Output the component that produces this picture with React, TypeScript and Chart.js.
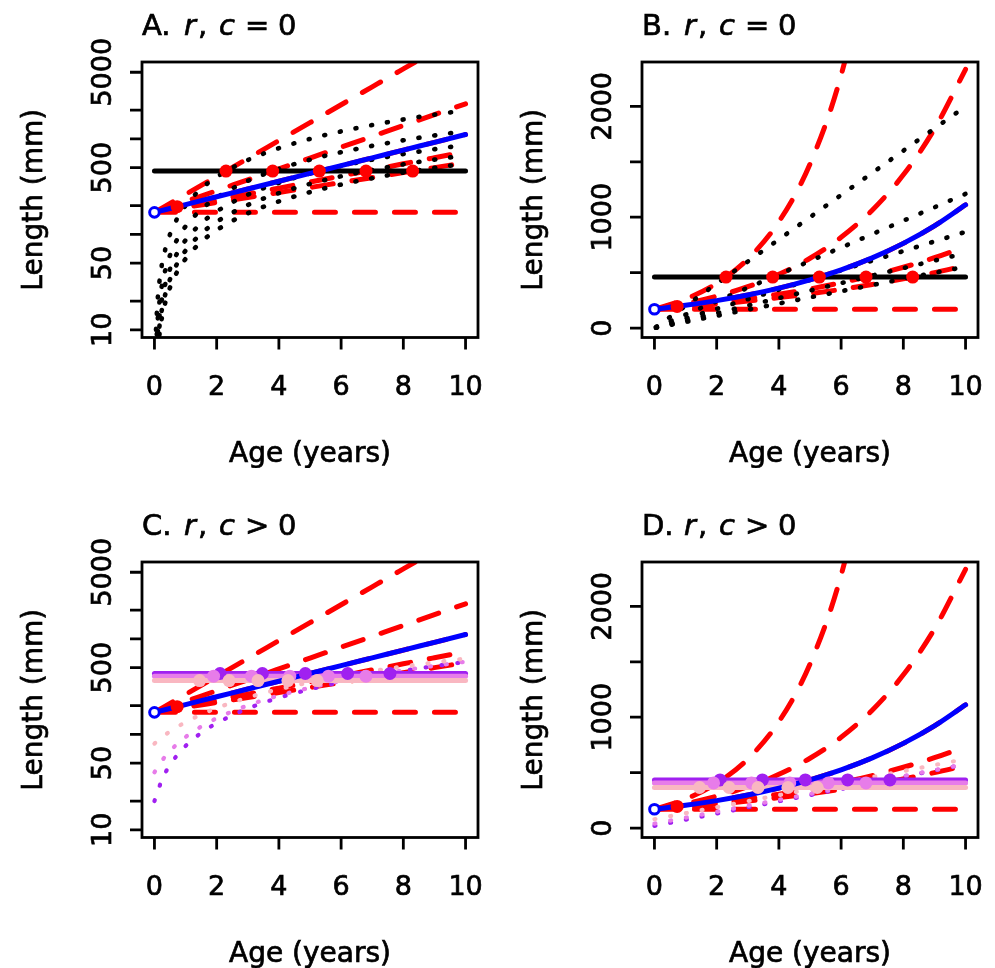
import React, { useEffect, useRef } from "react";
import { Chart, registerables } from "chart.js";

Chart.register(...registerables);

// ---------- data ----------
const AGE = [0, 1, 2, 3, 4, 5, 6, 7, 8, 9, 10];
const BLUE_LEN = [170, 205.1, 247.5, 298.6, 360.3, 434.8, 524.6, 633.0, 763.8, 921.6, 1112];
const RED_R0 = [170, 170, 170, 170, 170, 170, 170, 170, 170, 170, 170];
const RED_R1 = [170, 262.1, 404.0, 622.7, 960.0, 1479.9, 2281.3, 3516.7, 5421, 8357, 12883];
const RED_R2 = [170, 220.9, 287.1, 373.0, 484.7, 629.9, 818.5, 1063.6, 1382.1, 1796.0, 2333.8];
const RED_R3 = [170, 205.1, 247.5, 298.6, 360.3, 434.8, 524.6, 633.0, 763.8, 921.6, 1112];
const RED_R4 = [170, 196.8, 227.8, 263.7, 305.3, 353.4, 409.2, 473.7, 548.4, 634.8, 734.9];
const RED_R5 = [170, 191.7, 216.1, 243.6, 274.7, 309.7, 349.1, 393.6, 443.8, 500.3, 564.1];

const DOT_AGE = [0.05, 0.1, 0.2, 0.3, 0.5, 0.75, 1, 1.5, 2, 3, 4, 5, 6, 8, 10];
const BLACK_D1 = [10, 20, 40, 60, 100, 150, 200, 300, 400, 600, 800, 1000, 1200, 1600, 2000];
const BLACK_D2 = [6.05, 12.1, 24.2, 36.3, 60.5, 90.8, 121, 181.6, 242.1, 363.2, 484.2, 605.3, 726.3, 968.4, 1210.5];
const BLACK_D3 = [4.34, 8.68, 17.36, 26.04, 43.4, 65.1, 86.8, 130.2, 173.6, 260.4, 347.2, 434, 520.8, 694.3, 867.9];
const BLACK_D4 = [3.38, 6.77, 13.53, 20.3, 33.8, 50.7, 67.6, 101.5, 135.3, 202.9, 270.6, 338.2, 405.9, 541.2, 676.5];
const BLACK_D5 = [2.77, 5.54, 11.08, 16.63, 27.7, 41.6, 55.4, 83.1, 110.8, 166.3, 221.7, 277.1, 332.5, 443.4, 554.2];

const C_AGE = [0, 0.25, 0.5, 1, 1.5, 2, 3, 4, 6, 8, 10];
const PURPLE_DOTTED = [20, 33.9, 47.8, 75.5, 103.3, 131, 186.5, 242, 353, 464, 575];
const VIOLET_DOTTED = [40, 53.4, 66.9, 93.7, 120.6, 147.4, 201.1, 254.8, 362.2, 469.6, 577];
const PINK_DOTTED = [80, 93.6, 107.2, 134.3, 161.5, 188.6, 242.9, 297.2, 405.8, 514.4, 623];

const LINE_AGE = [0, 10];
const BLACK_LEVEL = 460;
const PURPLE_LEVEL = 434;
const VIOLET_LEVEL = 407;
const PINK_LEVEL = 366;

const RED_PT_AGE = [2.3, 3.8, 5.3, 6.8, 8.3];
const PURPLE_PT_AGE = [2.11, 3.47, 4.85, 6.21, 7.57];
const VIOLET_PT_AGE = [1.9, 3.12, 4.35, 5.59, 6.8];
const PINK_PT_AGE = [1.45, 2.4, 3.33, 4.29, 5.23];

const START_AGE = [0];
const START_LEN = [170];
const MID_AGE = [0.73];
const MID_LEN = [195];

const X_TICKS = [0, 2, 4, 6, 8, 10];
const LOG_TICKS = [10, 20, 50, 100, 200, 500, 1000, 2000, 5000];
const LOG_LABELS = [10, 50, 500, 5000];
const LIN_TICKS = [0, 500, 1000, 1500, 2000];
const LIN_LABELS = [0, 1000, 2000];

// ---------- styles ----------
const FONT = '"DejaVu Sans", "Liberation Sans", sans-serif';
const RED = "#ff0000";
const BLUE = "#0000ff";
const PURPLE = "#a020f0";
const VIOLET = "#e77ce9";
const PINK = "#f9b7c1";
const DASH = [21, 19];
const DOTS = [1, 15];

function pairs(xs: number[], ys: number[]) {
  return xs.map((x, i) => ({ x, y: ys[i] }));
}
function flat(xs: number[], v: number) {
  return xs.map((x) => ({ x, y: v }));
}

function lineDs(data: any[], color: string, width: number, dash: number[]) {
  return {
    data,
    showLine: true,
    borderColor: color,
    backgroundColor: color,
    borderWidth: width,
    borderDash: dash,
    borderCapStyle: "round",
    borderJoinStyle: "round",
    pointRadius: 0,
    pointHoverRadius: 0,
    cubicInterpolationMode: "monotone",
    fill: false,
    clip: 0,
  };
}
function pointDs(data: any[], fill: string, radius: number, stroke?: string, sw = 0) {
  return {
    data,
    showLine: false,
    pointRadius: radius,
    pointHoverRadius: radius,
    backgroundColor: fill,
    borderColor: stroke || fill,
    borderWidth: sw,
    clip: false,
  };
}

type PanelProps = { letter: string; op: string; log: boolean; colored: boolean; left: number; top: number };

function buildDatasets(colored: boolean) {
  const back: any[] = [];
  [RED_R0, RED_R5, RED_R4, RED_R3, RED_R2, RED_R1].forEach((r) => back.push(lineDs(pairs(AGE, r), RED, 5, DASH)));
  if (!colored) {
    [BLACK_D1, BLACK_D2, BLACK_D3, BLACK_D4, BLACK_D5].forEach((d) =>
      back.push(lineDs(pairs(DOT_AGE, d), "#000000", 4.6, DOTS))
    );
    back.push(lineDs(flat(LINE_AGE, BLACK_LEVEL), "#000000", 5, []));
    back.push(lineDs(pairs(AGE, BLUE_LEN), BLUE, 5, []));
    back.push(pointDs(flat(RED_PT_AGE, BLACK_LEVEL), RED, 6.5));
  } else {
    back.push(lineDs(pairs(C_AGE, PURPLE_DOTTED), PURPLE, 4.2, DOTS));
    back.push(lineDs(pairs(C_AGE, VIOLET_DOTTED), VIOLET, 4.2, DOTS));
    back.push(lineDs(pairs(C_AGE, PINK_DOTTED), PINK, 4.2, DOTS));
    back.push(lineDs(flat(LINE_AGE, PURPLE_LEVEL), PURPLE, 5, []));
    back.push(lineDs(flat(LINE_AGE, VIOLET_LEVEL), VIOLET, 5, []));
    back.push(lineDs(flat(LINE_AGE, PINK_LEVEL), PINK, 5, []));
    back.push(lineDs(pairs(AGE, BLUE_LEN), BLUE, 5, []));
    back.push(pointDs(flat(PURPLE_PT_AGE, PURPLE_LEVEL), PURPLE, 6.5));
    back.push(pointDs(flat(VIOLET_PT_AGE, VIOLET_LEVEL), VIOLET, 6.5));
    back.push(pointDs(flat(PINK_PT_AGE, PINK_LEVEL), PINK, 6.5));
  }
  back.push(pointDs(pairs(MID_AGE, MID_LEN), RED, 6.5));
  back.push(pointDs(pairs(START_AGE, START_LEN), "#ffffff", 4.8, BLUE, 3));
  return back.reverse();
}

function text(ctx: CanvasRenderingContext2D, s: string, x: number, y: number) {
  ctx.fillText(s, x, y);
  ctx.strokeText(s, x, y);
}

function makePlugin(letter: string, op: string, log: boolean) {
  return {
    id: "rAxes",
    afterDraw(chart: any) {
      const ctx: CanvasRenderingContext2D = chart.ctx;
      const a = chart.chartArea;
      const xs = chart.scales.x;
      const ys = chart.scales.y;
      const yTicks = log ? LOG_TICKS : LIN_TICKS;
      const yLabels = log ? LOG_LABELS : LIN_LABELS;
      ctx.save();
      ctx.setLineDash([]);
      ctx.strokeStyle = "#000";
      ctx.lineWidth = 2.8;
      ctx.strokeRect(a.left, a.top, a.right - a.left, a.bottom - a.top);
      ctx.beginPath();
      X_TICKS.forEach((t) => {
        const px = xs.getPixelForValue(t);
        ctx.moveTo(px, a.bottom);
        ctx.lineTo(px, a.bottom + 12);
      });
      yTicks.forEach((t) => {
        const py = ys.getPixelForValue(t);
        ctx.moveTo(a.left, py);
        ctx.lineTo(a.left - 12, py);
      });
      ctx.stroke();

      ctx.fillStyle = "#000";
      ctx.lineWidth = 0.7;
      ctx.textAlign = "center";
      ctx.textBaseline = "alphabetic";
      ctx.font = `27px ${FONT}`;
      X_TICKS.forEach((t) => text(ctx, String(t), xs.getPixelForValue(t), a.bottom + 57));
      yLabels.forEach((t) => {
        ctx.save();
        ctx.translate(a.left - 31, ys.getPixelForValue(t));
        ctx.rotate(-Math.PI / 2);
        text(ctx, String(t), 0, 0);
        ctx.restore();
      });

      ctx.font = `28px ${FONT}`;
      text(ctx, "Age (years)", (a.left + a.right) / 2, a.bottom + 124);
      ctx.save();
      ctx.translate(42, (a.top + a.bottom) / 2);
      ctx.rotate(-Math.PI / 2);
      text(ctx, "Length (mm)", 0, 0);
      ctx.restore();

      ctx.textAlign = "left";
      const base = a.top - 27;
      const pieces: [string, number, boolean][] = [
        [letter + ".", 0, false],
        ["r", 42, true],
        [",", 56, false],
        ["c", 77, true],
        [op, 103, false],
        ["0", 136, false],
      ];
      pieces.forEach(([txt, dx, it]) => {
        ctx.font = `${it ? "italic " : ""}29px ${FONT}`;
        text(ctx, txt, a.left + dx, base);
      });
      ctx.restore();
    },
  };
}

function Panel({ letter, op, log, colored, left, top }: PanelProps) {
  const ref = useRef<HTMLCanvasElement | null>(null);
  useEffect(() => {
    if (!ref.current) return;
    const chart = new Chart(ref.current, {
      type: "scatter",
      data: { datasets: buildDatasets(colored) as any },
      options: {
        responsive: false,
        animation: false,
        events: [],
        layout: { padding: { left: 142, top: 62, right: 17, bottom: 130.5 } },
        plugins: { legend: { display: false }, tooltip: { enabled: false }, title: { display: false } },
        scales: {
          x: { type: "linear", min: -0.4, max: 10.4, display: false },
          y: log
            ? { type: "logarithmic", min: 8.3, max: 6400, display: false }
            : { type: "linear", min: -85, max: 2400, display: false },
        },
      } as any,
      plugins: [makePlugin(letter, op, log)],
    });
    return () => chart.destroy();
  }, [letter, op, log, colored]);
  return (
    <canvas
      ref={ref}
      width={495}
      height={468}
      style={{ position: "absolute", left, top, width: 495, height: 468 }}
    />
  );
}

export default function App() {
  return (
    <div style={{ position: "absolute", left: 0, top: 0, width: 995, height: 968, background: "#fff" }}>
      <Panel letter="A" op="=" log={true} colored={false} left={0} top={0} />
      <Panel letter="B" op="=" log={false} colored={false} left={500} top={0} />
      <Panel letter="C" op=">" log={true} colored={true} left={0} top={500} />
      <Panel letter="D" op=">" log={false} colored={true} left={500} top={500} />
    </div>
  );
}
